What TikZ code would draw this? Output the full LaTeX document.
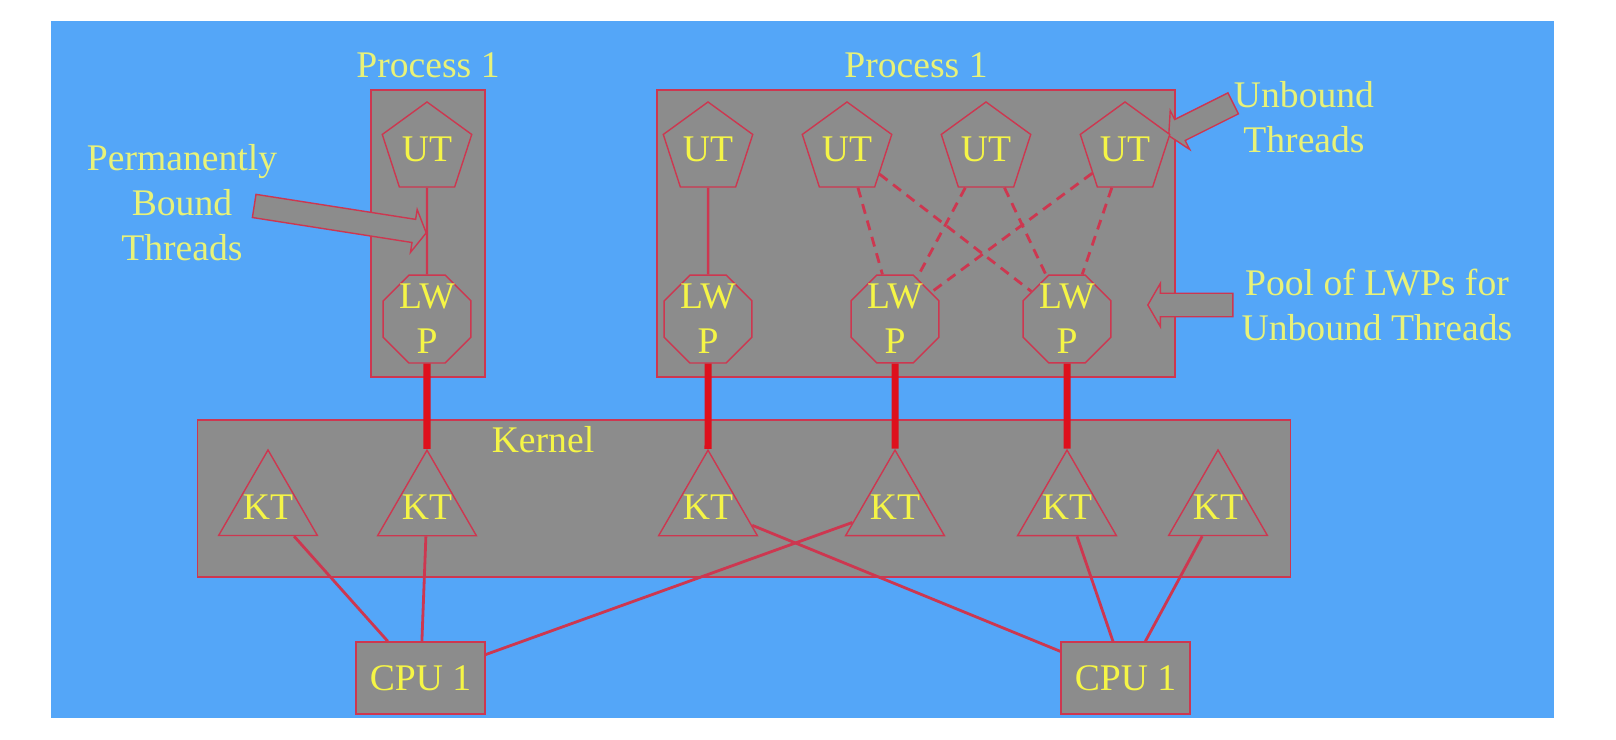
\documentclass[tikz,border=0pt]{standalone}
\usepackage{fontspec}
\setmainfont{Liberation Serif}
\usetikzlibrary{shapes.geometric,shapes.arrows,positioning}
\definecolor{panelblue}{RGB}{84,166,248}
\definecolor{boxgray}{RGB}{140,140,140}
\definecolor{edgered}{RGB}{205,55,80}
\definecolor{linkred}{RGB}{222,16,28}
\definecolor{labelyellow}{RGB}{232,242,120}
\definecolor{nodeyellow}{RGB}{245,245,70}

\tikzset{
	region/.style={rectangle,draw=edgered,fill=boxgray,line width=0.4pt,inner sep=0pt,outer sep=0pt},
	uthread/.style={regular polygon,regular polygon sides=5,minimum size=0.94cm,inner sep=0pt,draw=edgered,fill=boxgray,text=nodeyellow},
	lwproc/.style={regular polygon,regular polygon sides=8,minimum size=0.95cm,inner sep=-1.5pt,align=center,draw=edgered,fill=boxgray,text=nodeyellow},
	kthread/.style={regular polygon,regular polygon sides=3,minimum size=1.14cm,inner sep=-0.1cm,draw=edgered,fill=boxgray,text=nodeyellow},
	cpubox/.style={rectangle,minimum width=1.29cm,minimum height=0.72cm,inner sep=0pt,draw=edgered,fill=boxgray,text=nodeyellow},
	blockarrow/.style={single arrow,draw=edgered,fill=boxgray,line width=0.4pt,inner xsep=0pt,inner ysep=0.11cm,single arrow head extend=0.1cm,single arrow tip angle=120},
	note/.style={text=labelyellow,align=center},
	bound/.style={edgered,line width=0.7pt},
	pooled/.style={edgered,dash pattern=on 0.1cm off 0.07cm,line width=0.8pt},
	attach/.style={linkred,line width=2pt},
	runs/.style={edgered,line width=0.8pt}
}

\begin{document}
\begin{tikzpicture}[x=0.01cm,y=-0.01cm,on grid,font=\fontsize{10.7pt}{12.8pt}\selectfont]
					\useasboundingbox (0,0) rectangle (1616,740);
					\fill[panelblue] (51,21) rectangle (1554,718);

					\node[region,minimum width=1.14cm,minimum height=2.87cm,label={[note]above:Process 1}] (procA) at (428,233.5) {};
					\node[region,minimum width=5.18cm,minimum height=2.87cm,label distance=0.07cm,label={[note]above:Process 1}] (procB) at (916,233.5) {};
					\node[region,minimum width=10.92cm,minimum height=1.57cm] (kernel) at (744,498.5) {};
					\node[text=nodeyellow] (kernelname) at (543,440) {Kernel};

					\node[blockarrow,minimum height=1.74cm,rotate=-8.9,anchor=tip] (boundptr) at (427,233) {};
					\node[blockarrow,minimum height=0.72cm,rotate=206.6,anchor=tip] (unboundptr) at (1168,136) {};
					\node[blockarrow,minimum height=0.85cm,rotate=180,anchor=tip] (poolptr) at (1147,305) {};

					\node[note] (boundnote) at (182,203) {Permanently\\Bound\\Threads};
					\node[note] (unboundnote) at (1304,117.5) {Unbound\\Threads};
					\node[note] (poolnote) at (1377,304.5) {Pool of LWPs for\\Unbound Threads};

					\node[uthread] (ut1) at (427,149) {UT};
					\node[uthread] (ut2) at (708,149) {UT};
					\node[uthread] (ut3) at (847,149) {UT};
					\node[uthread] (ut4) at (986,149) {UT};
					\node[uthread] (ut5) at (1125,149) {UT};

					\node[lwproc] (lwp1) [below=1.7cm of ut1] {LW\\P};
					\node[lwproc] (lwp2) [below=1.7cm of ut2] {LW\\P};
					\node[lwproc] (lwp3) at (895,319) {LW\\P};
					\node[lwproc] (lwp4) at (1067,319) {LW\\P};

					\node[kthread] (kt1) at (268,507) {KT};
					\node[kthread] (kt2) [below=1.88cm of lwp1] {KT};
					\node[kthread] (kt3) [below=1.88cm of lwp2] {KT};
					\node[kthread] (kt4) [below=1.88cm of lwp3] {KT};
					\node[kthread] (kt5) [below=1.88cm of lwp4] {KT};
					\node[kthread] (kt6) at (1218,507) {KT};

					\node[cpubox] (cpuA) at (420.5,678) {CPU 1};
					\node[cpubox] (cpuB) at (1125.5,678) {CPU 1};

					\path[bound] (ut1) edge (lwp1)
						  (ut2) edge (lwp2);
					\path[pooled] (ut3) edge (lwp3)
							  edge (lwp4)
						  (ut4) edge (lwp3)
							  edge (lwp4)
						  (ut5) edge (lwp3)
							  edge (lwp4);
					\path[attach] (lwp1) edge (kt2)
						  (lwp2) edge (kt3)
						  (lwp3) edge (kt4)
						  (lwp4) edge (kt5);
					\path[runs] (kt1) edge (cpuA)
						  (kt2) edge (cpuA)
						  (kt4) edge (cpuA)
						  (kt3) edge (cpuB)
						  (kt5) edge (cpuB)
						  (kt6) edge (cpuB);
				\end{tikzpicture}
\end{document}
